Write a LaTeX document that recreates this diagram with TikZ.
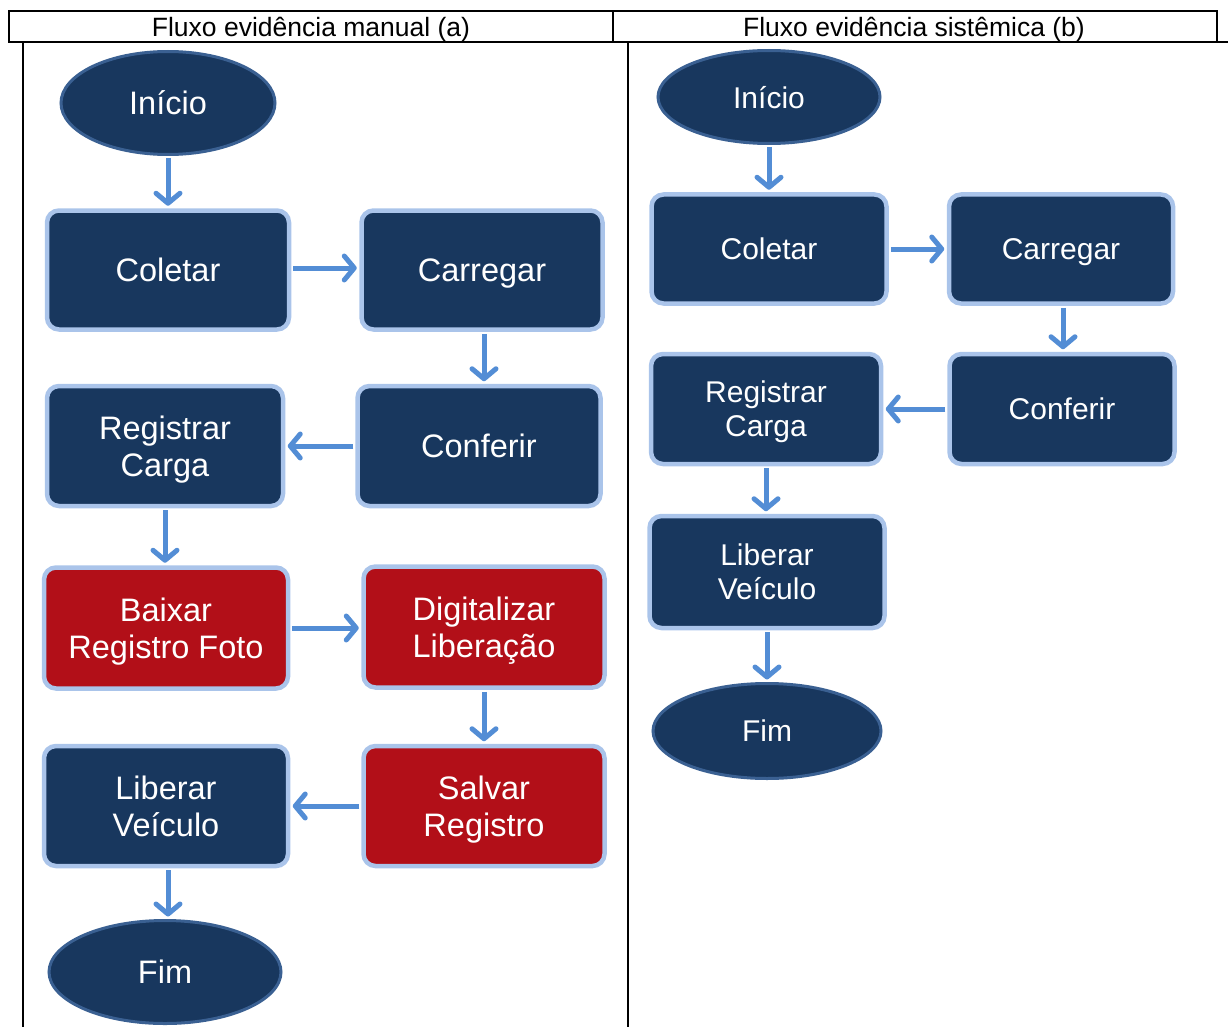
\documentclass[tikz,border=0pt]{standalone}
\usepackage{fontspec}
\setmainfont{Liberation Sans}
\usetikzlibrary{shapes.geometric,arrows.meta}
\definecolor{navy}{RGB}{24,55,94}
\definecolor{edgeblue}{RGB}{170,196,234}
\definecolor{ellborder}{RGB}{58,96,146}
\definecolor{redbox}{RGB}{178,15,24}
\definecolor{arrblue}{RGB}{83,141,213}
\tikzset{
  box/.style={rectangle, rounded corners=12pt, fill=navy, draw=edgeblue, line width=4.5pt,
    text=white, align=center, inner sep=0pt, text depth=0pt},
  redb/.style={box, fill=redbox},
  term/.style={ellipse, fill=navy, draw=ellborder, line width=3pt, text=white, inner sep=0pt, text depth=0pt},
  bigf/.style={font=\fontsize{32.5}{37}\selectfont},
  smallf/.style={font=\fontsize{30}{34}\selectfont},
  arr/.style={draw=arrblue, line width=5pt, -{Straight Barb[length=10pt,width=24pt,round]}, shorten <=2pt, shorten >=2.5pt},
  rule/.style={line width=1.6pt, black},
  head/.style={font=\fontsize{26.5}{30}\selectfont, inner sep=0pt, text depth=0pt}
}
\begin{document}
\begin{tikzpicture}[x=1pt,y=-1pt]
\useasboundingbox (0,0) rectangle (1228,1027);
% table
\draw[rule] (9,11) rectangle (1217,42);
\draw[rule] (613,11) -- (613,42);
\draw[rule] (9,42) -- (1228,42);
\draw[rule] (23,42) -- (23,1027);
\draw[rule] (628,42) -- (628,1027);
\node[head] (ha) at (311,27) {Fluxo evidência manual (a)};
\node[head] (hb) at (914,27) {Fluxo evidência sistêmica (b)};
% left column (a)
\node[term, bigf, minimum width=214pt, minimum height=103pt] (a0) at (168,103) {Início};
\node[box, bigf, minimum width=242pt, minimum height=119pt] (a1) at (168,270) {Coletar};
\node[box, bigf, minimum width=241pt, minimum height=119pt] (a2) at (482,270) {Carregar};
\node[box, bigf, minimum width=243pt, minimum height=120pt] (a3) at (479,446) {Conferir};
\node[box, bigf, minimum width=236pt, minimum height=120pt] (a4) at (165,446) {Registrar\\Carga};
\node[redb, bigf, minimum width=244pt, minimum height=121pt] (a5) at (166,628) {Baixar\\Registro Foto};
\node[redb, bigf, minimum width=241pt, minimum height=121pt] (a6) at (484,627) {Digitalizar\\Liberação};
\node[redb, bigf, minimum width=241pt, minimum height=120pt] (a7) at (484,806) {Salvar\\Registro};
\node[box, bigf, minimum width=244pt, minimum height=120pt] (a8) at (166,806) {Liberar\\Veículo};
\node[term, bigf, minimum width=232pt, minimum height=103pt] (a9) at (165,972) {Fim};
\draw[arr] (a0.south -| 168,0) -- (a1.north -| 168,0);
\draw[arr] (a1.east |- 0,268) -- (a2.west |- 0,268);
\draw[arr] (a2.south -| 484,0) -- (a3.north -| 484,0);
\draw[arr] (a3.west) -- (a4.east);
\draw[arr] (a4.south -| 165,0) -- (a5.north -| 165,0);
\draw[arr] (a5.east) -- (a6.west |- a5.east);
\draw[arr] (a6.south -| 484,0) -- (a7.north -| 484,0);
\draw[arr] (a7.west) -- (a8.east);
\draw[arr] (a8.south -| 168,0) -- (a9.north -| 168,0);
% right column (b)
\node[term, smallf, minimum width=222pt, minimum height=93pt] (b0) at (769,97) {Início};
\node[box, smallf, minimum width=235pt, minimum height=109pt] (b1) at (769,249) {Coletar};
\node[box, smallf, minimum width=224pt, minimum height=109pt] (b2) at (1061,249) {Carregar};
\node[box, smallf, minimum width=225pt, minimum height=110pt] (b3) at (1062,409) {Conferir};
\node[box, smallf, minimum width=230pt, minimum height=110pt] (b4) at (766,409) {Registrar\\Carga};
\node[box, smallf, minimum width=235pt, minimum height=112pt] (b5) at (767,572) {Liberar\\Veículo};
\node[term, smallf, minimum width=228pt, minimum height=95pt] (b6) at (767,731) {Fim};
\draw[arr] (b0.south) -- (b1.north);
\draw[arr] (b1.east) -- (b2.west);
\draw[arr] (b2.south -| 1063,0) -- (b3.north -| 1063,0);
\draw[arr] (b3.west) -- (b4.east);
\draw[arr] (b4.south) -- (b5.north -| b4.south);
\draw[arr] (b5.south) -- (b6.north -| b5.south);
\end{tikzpicture}
\end{document}
